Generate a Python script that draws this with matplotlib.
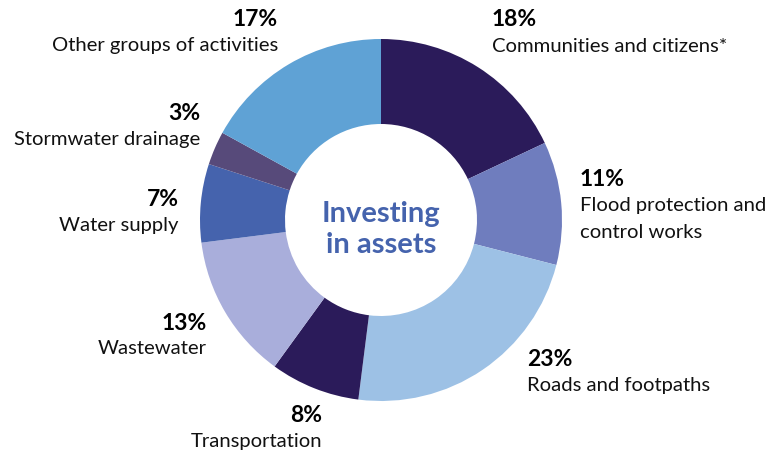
import matplotlib.pyplot as plt

plt.rcParams['font.family'] = ['Lato', 'DejaVu Sans']

# slices, clockwise from 12 o'clock
labels = ['Communities and citizens*', 'Flood protection and\ncontrol works', 'Roads and footpaths',
          'Transportation', 'Wastewater', 'Water supply', 'Stormwater drainage',
          'Other groups of activities']
shares = [18, 11, 23, 8, 13, 7, 3, 17]
colors = ['#2b1b5a', '#6f7dbe', '#9dc1e5', '#2b1b5a', '#a9aedb', '#4563ad', '#574a7a', '#5fa2d5']

# label anchor (pixels from top-left) and alignment
label_pos = [(492, 20, 'left'), (580, 180, 'left'), (527, 360, 'left'), (322, 415, 'right'),
             (207, 323, 'right'), (179, 199, 'right'), (200, 113, 'right'), (278, 20, 'right')]

W, H = 778, 453
fig = plt.figure(figsize=(W / 100, H / 100), dpi=100)
ax = fig.add_axes([0, 0, 1, 1])

cx, cy, r = 381, H - 220, 181
ax.pie(shares, colors=colors, startangle=90, counterclock=False, center=(cx, cy), radius=r,
       wedgeprops=dict(width=r - 96, edgecolor='none'), frame=True)
ax.set_xlim(0, W)
ax.set_ylim(0, H)
ax.set_aspect('equal')
ax.axis('off')

for lab, val, (x, y, ha) in zip(labels, shares, label_pos):
    ax.text(x, H - y, f'{val}%', ha=ha, va='center', fontsize=16.5, fontweight='bold', color='black')
    for i, line in enumerate(lab.split('\n')):
        ax.text(x, H - y - 26 - 26 * i, line, ha=ha, va='center', fontsize=14.6, color='#111111')

ax.text(cx, H - 214, 'Investing', ha='center', va='center', fontsize=21,
        fontweight='bold', color='#4563ad')
ax.text(cx, H - 245, 'in assets', ha='center', va='center', fontsize=21,
        fontweight='bold', color='#4563ad')

fig.savefig('out.png', dpi=100)
